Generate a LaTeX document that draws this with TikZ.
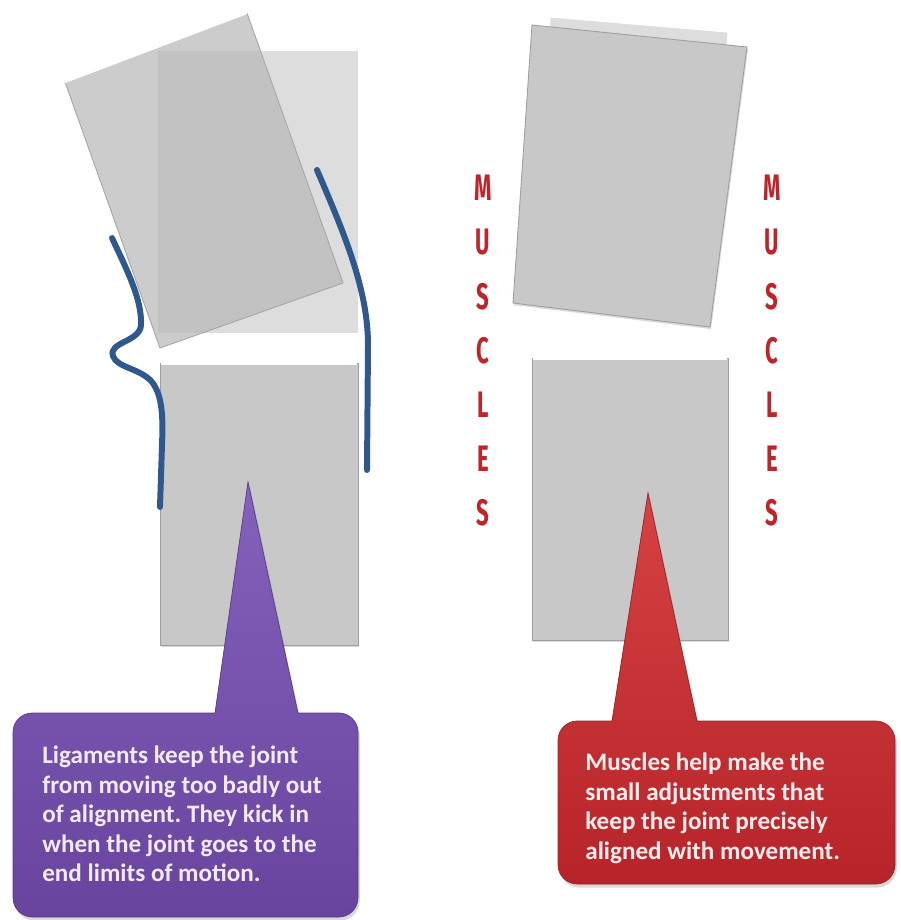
\documentclass[tikz,border=0pt]{standalone}
\usepackage{fontspec}
\setmainfont{Carlito}
\newfontfamily\musclefont{Fira Sans}
\usetikzlibrary{shadows}
\definecolor{bonegray}{RGB}{200,200,200}
\definecolor{bonefade}{RGB}{221,221,221}
\definecolor{bonetilt}{RGB}{184,184,184}
\definecolor{ligblue}{RGB}{47,88,140}
\definecolor{musclered}{RGB}{192,36,43}
\definecolor{purpletop}{RGB}{132,98,188}
\definecolor{purplebot}{RGB}{104,68,158}
\definecolor{purpletext}{RGB}{242,234,250}
\definecolor{redtop}{RGB}{214,66,66}
\definecolor{redbot}{RGB}{182,36,42}
\definecolor{redtext}{RGB}{252,236,236}

\begin{document}
\frenchspacing
\begin{tikzpicture}[x=0.02cm, y=-0.02cm,
    bone/.style={fill=bonegray, draw=gray!75, line width=0.5pt,
        drop shadow={shadow xshift=0.6pt, shadow yshift=-1.2pt, opacity=0.3}},
    fadebone/.style={fill=bonefade, draw=bonefade},
    tiltbone/.style={fill=bonetilt, fill opacity=0.72, draw=gray!70, line width=0.5pt},
    highlight/.style={white, line width=1.2pt},
    ligament/.style={draw=ligblue, line width=3.4pt, line cap=round},
    musclechar/.style={font=\musclefont\bfseries\fontsize{21}{21}\selectfont, text=musclered,
        xscale=0.6, inner sep=0pt},
    purplecall/.style={top color=purpletop, bottom color=purplebot, draw=purplebot!85!black,
        line width=0.4pt, drop shadow={shadow xshift=1pt, shadow yshift=-2pt, opacity=0.3}},
    redcall/.style={top color=redtop, bottom color=redbot, draw=redbot!85!black,
        line width=0.4pt, drop shadow={shadow xshift=1pt, shadow yshift=-2pt, opacity=0.3}},
    calltext/.style={font=\bfseries\fontsize{14.3}{16.7}\selectfont, align=left,
        inner sep=0pt, anchor=north west}
]
    \useasboundingbox (0,0) rectangle (901,920);

    % left joint: bones
    \path[fadebone] (158,50) rectangle (357,332);
    \draw[highlight] (158,50) -- (357,50);
    \path[tiltbone] (65,82) -- (247,13) -- (343,283) -- (160,348) -- cycle;
    \draw[highlight] (65,82) -- (247,13);
    \path[bone] (160,363) rectangle (358,645);
    \draw[highlight] (161,364) -- (357,364);

    % left joint: ligaments
    \draw[ligament] (112,238) .. controls (128,272) and (142,300) .. (141,325)
        .. controls (140,342) and (108,342) .. (113,356)
        .. controls (117,368) and (140,368) .. (152,382)
        .. controls (163,396) and (163,420) .. (162,445) -- (160,507);
    \draw[ligament] (317,170) .. controls (345,235) and (368,290) .. (368,345) -- (367,470);

    % right joint: bones
    \path[fadebone] (551,18) -- (727,33) -- (705,300) -- (540,290) -- cycle;
    \path[bone] (532,25) -- (747,47) -- (710,327) -- (513,303) -- cycle;
    \path[bone] (532,358) rectangle (728,640);
    \draw[highlight] (533,359) -- (727,359);

    % muscles, both sides
    \foreach \ch [count=\i from 0] in {M,U,S,C,L,E,S} {
        \node[musclechar] (ml\i) at (483,{188+54.2*\i}) {\ch};
        \node[musclechar] (mr\i) at (772,{188+54.2*\i}) {\ch};
    }

    % callouts
    \path[purplecall] (180,917) [rounded corners=11pt] -- (13,917) -- (13,713)
        [sharp corners] -- (215,713) -- (248,482) -- (298,713)
        [rounded corners=11pt] -- (358,713) -- (358,917) -- cycle;
    \node[calltext, text=purpletext] (ligtext) at (42,746) {
        Ligaments keep the joint\\
        from moving too badly out\\
        of alignment. They kick in\\
        when the joint goes to the\\
        end limits of motion.
    };
    \path[redcall] (720,884) [rounded corners=11pt] -- (558,884) -- (558,721)
        [sharp corners] -- (612,721) -- (648,493) -- (697,721)
        [rounded corners=11pt] -- (895,721) -- (895,884) -- cycle;
    \node[calltext, text=redtext] (mustext) at (585,753) {
        Muscles help make the\\
        small adjustments that\\
        keep the joint precisely\\
        aligned with movement.
    };
\end{tikzpicture}
\end{document}
